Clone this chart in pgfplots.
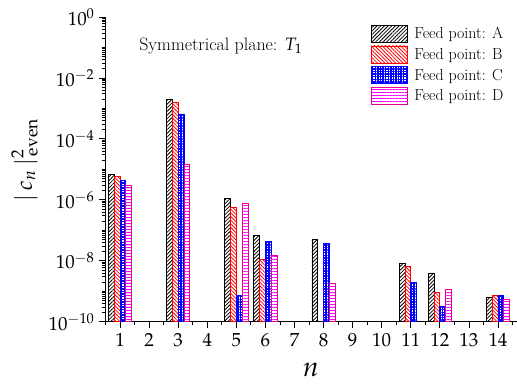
\documentclass[border=0pt]{standalone}
\usepackage{mathpazo}
\usepackage{pgfplots}
\pgfplotsset{compat=1.18}
\usetikzlibrary{patterns,patterns.meta}
\begin{document}
\begin{tikzpicture}
\begin{axis}[
  scale only axis,
  width=412bp, height=305bp,
  ymode=log, log origin=infty,
  ymin=1e-10, ymax=1,
  xmin=0.48, xmax=14.64,
  axis lines=left,
  axis line style={-, line width=0.8pt},
  ybar, bar width=0.2,
  xtick={1,...,14},
  minor xtick={0.5,1.5,...,14.5},
  ytick={1e-10,1e-8,1e-6,1e-4,1e-2,1},
  minor ytick={2e-10,3e-10,4e-10,5e-10,6e-10,7e-10,8e-10,9e-10,1e-9,
    2e-9,3e-9,4e-9,5e-9,6e-9,7e-9,8e-9,9e-9,
    2e-8,3e-8,4e-8,5e-8,6e-8,7e-8,8e-8,9e-8,1e-7,
    2e-7,3e-7,4e-7,5e-7,6e-7,7e-7,8e-7,9e-7,
    2e-6,3e-6,4e-6,5e-6,6e-6,7e-6,8e-6,9e-6,1e-5,
    2e-5,3e-5,4e-5,5e-5,6e-5,7e-5,8e-5,9e-5,
    2e-4,3e-4,4e-4,5e-4,6e-4,7e-4,8e-4,9e-4,1e-3,
    2e-3,3e-3,4e-3,5e-3,6e-3,7e-3,8e-3,9e-3,
    2e-2,3e-2,4e-2,5e-2,6e-2,7e-2,8e-2,9e-2,1e-1,
    2e-1,3e-1,4e-1,5e-1,6e-1,7e-1,8e-1,9e-1},
  tick align=outside,
  major tick length=6bp, minor tick length=3bp,
  tick style={black, line width=0.8pt},
  tick label style={font=\fontsize{19}{23}\selectfont},
  xticklabel style={yshift=-2bp},
  yticklabel style={xshift=-1bp},
  xlabel={$n$},
  xlabel style={font=\fontsize{28}{30}\selectfont, at={(axis description cs:0.5,-0.157)}, anchor=center},
  ylabel={$|\,c_n\,|^{2}_{\,\mathrm{even}}$},
  ylabel style={font=\fontsize{23}{27}\selectfont, at={(axis description cs:-0.195,0.53)}, anchor=center, rotate=0},
  clip=false,
  legend style={at={(axis description cs:0.645,0.975)}, anchor=north west, draw=none, fill=none,
    inner sep=0pt, row sep=3bp, font=\fontsize{16}{18}\selectfont},
  legend cell align=left,
  legend image code/.code={\draw[#1, line width=0.8pt] (0bp,-8.5bp) rectangle (36bp,8.5bp); \path (41bp,0bp);},
]
\addplot[bar shift=-0.3, draw=black, line width=0.8pt, pattern={Lines[angle=45,distance=2.6pt,line width=0.8pt]}, pattern color=black]
  coordinates {(1,6.6e-6) (3,2.0e-3) (5,1.1e-6) (6,6.9e-8) (8,4.9e-8) (11,8e-9) (12,4e-9) (14,6.1e-10)};
\addplot[bar shift=-0.1, draw=red, line width=0.8pt, pattern={Lines[angle=-45,distance=2.6pt,line width=0.8pt]}, pattern color=red]
  coordinates {(1,5.8e-6) (3,1.6e-3) (5,5.7e-7) (6,1.07e-8) (11,6.5e-9) (12,9.4e-10) (14,7.4e-10)};
\addplot[bar shift=0.1, draw=blue, line width=0.8pt, pattern={Hatch[angle=0,distance=2.6pt,line width=1.4pt]}, pattern color=blue]
  coordinates {(1,4.5e-6) (3,6.6e-4) (5,7.1e-10) (6,4.2e-8) (8,3.8e-8) (11,2e-9) (12,3.3e-10) (14,7.1e-10)};
\addplot[bar shift=0.3, draw=magenta, line width=0.8pt, pattern={Lines[angle=0,distance=3pt,line width=0.8pt]}, pattern color=magenta]
  coordinates {(1,2.9e-6) (3,1.5e-5) (5,7.8e-7) (6,1.45e-8) (8,1.86e-9) (12,1.18e-9) (14,5.5e-10)};
\legend{Feed point: A, Feed point: B, Feed point: C, Feed point: D}
\node[anchor=west, font=\fontsize{18}{21}\selectfont] at (axis description cs:0.075,0.905) {Symmetrical plane: $T_1$};
\path (axis description cs:-0.2549,-0.2066) rectangle (axis description cs:1,1.0557);
\end{axis}
\end{tikzpicture}
\end{document}
